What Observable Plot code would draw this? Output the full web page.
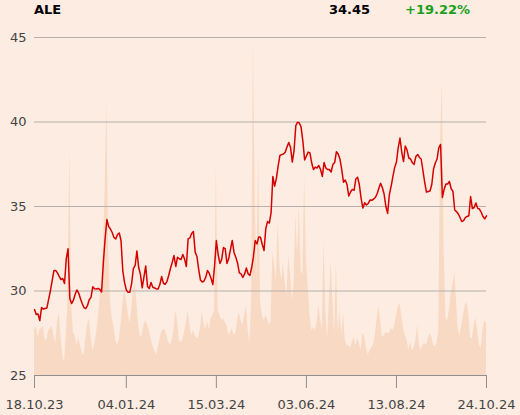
<!DOCTYPE html>
<html><head><meta charset="utf-8">
<script src="https://cdn.jsdelivr.net/npm/d3@7"></script>
<script src="https://cdn.jsdelivr.net/npm/@observablehq/plot@0.6"></script>
<style>
html,body{margin:0;padding:0;background:#fcece1;}
#wrap{position:relative;width:520px;height:415px;font-family:"DejaVu Sans",sans-serif;overflow:hidden;}
#wrap svg{position:absolute;left:0;top:0;}
.hdr{position:absolute;top:0;font-weight:bold;font-size:13px;line-height:20px;white-space:nowrap;z-index:3;}
</style></head><body>
<div id="wrap">
  <div class="hdr" id="sym" style="left:34px;color:#000"></div>
  <div class="hdr" id="last" style="right:150px;color:#000"></div>
  <div class="hdr" id="chg" style="left:405px;color:#1a9f1a"></div>
</div>
<script>
const symbol = "ALE";
const lastPrice = "34.45";
const change = "+19.22%";

const prices = [
28.90,28.61,28.64,28.25,29.02,28.93,28.96,28.99,29.50,30.00,
30.62,31.21,31.21,31.07,30.86,30.68,30.74,30.44,31.92,32.50,
29.56,29.26,29.44,29.79,30.06,29.88,29.56,29.26,29.02,28.96,
29.14,29.48,29.62,30.25,30.13,30.12,30.15,30.09,29.94,31.69,
33.11,34.23,33.82,33.67,33.46,33.17,33.08,33.34,33.43,32.99,
31.21,30.50,30.06,29.93,29.93,30.44,31.33,31.51,32.37,31.39,
30.98,30.19,30.83,31.48,30.27,30.15,30.50,30.22,30.18,30.12,
30.12,30.38,30.86,30.46,30.40,30.56,30.92,31.33,31.69,32.10,
31.45,32.00,31.91,31.86,32.16,31.89,31.45,33.08,33.14,33.40,
33.52,32.30,32.04,31.27,30.65,30.53,30.59,30.82,31.21,31.04,
30.74,30.38,31.51,32.99,32.16,31.63,31.86,32.57,32.51,31.63,
31.92,32.46,32.99,32.28,32.00,31.66,31.07,31.01,30.80,31.01,
31.36,31.01,30.92,31.39,32.04,32.99,32.78,33.20,33.18,32.75,
32.40,33.70,34.11,34.02,34.64,36.78,36.21,36.66,37.40,38.02,
38.07,38.11,38.21,38.52,38.79,38.51,37.63,38.31,39.79,39.99,
39.94,39.70,38.85,37.75,37.99,38.22,38.17,37.57,37.19,37.33,
37.28,37.43,37.19,36.78,37.60,37.28,37.19,37.19,37.04,37.49,
37.60,38.24,38.11,37.81,37.19,36.44,36.57,36.30,35.62,35.86,
36.01,35.95,36.63,36.73,36.27,35.47,34.91,35.22,35.09,35.18,
35.38,35.37,35.43,35.53,35.74,36.07,36.37,36.12,35.74,35.00,
34.59,35.71,36.21,36.78,37.31,37.63,38.49,39.05,38.22,37.66,
38.58,38.34,37.87,37.81,37.60,37.49,37.96,38.08,37.90,37.81,
37.13,36.42,35.85,35.89,35.92,36.30,37.22,37.57,37.81,38.49,
38.67,35.53,36.01,36.33,36.33,36.48,36.05,35.89,34.79,34.70,
34.56,34.35,34.11,34.17,34.34,34.41,34.45,35.59,34.88,34.94,
35.21,34.89,34.85,34.66,34.41,34.27,34.45
];

const volumes = [
13.3,14.8,11.2,13.3,13.9,14.5,10.4,10.4,13.3,13.9,
14.5,11.8,9.5,15.7,18.6,11.8,5.9,3.8,11.8,22.2,
66.6,20.7,12.7,11.8,8.9,10.9,8.9,6.8,5.9,10.4,
14.8,16.9,11.8,7.4,8.9,11.8,16.3,22.2,28.1,37.0,
54.7,80.5,37.0,22.2,16.9,14.5,10.4,8.9,10.4,14.8,
20.7,25.2,22.8,18.6,15.4,19.2,24.6,27.2,21.6,14.8,
11.5,11.8,14.8,16.3,14.8,13.3,10.9,8.9,7.4,5.9,
8.3,10.4,12.7,13.6,13.3,11.8,9.8,8.9,10.4,13.3,
19.2,16.3,10.4,9.8,10.4,12.7,15.4,19.2,14.8,11.8,
13.3,11.8,10.9,11.5,13.9,18.6,15.7,13.3,16.3,13.3,
16.9,17.8,19.2,61.5,19.2,17.8,16.3,16.9,15.7,14.8,
11.8,12.7,13.9,11.8,12.4,16.3,18.6,16.3,14.8,17.8,
20.7,13.3,9.5,22.2,98.5,51.8,28.1,65.7,22.2,17.8,
16.3,17.8,16.9,14.8,16.3,36.4,32.5,28.1,45.3,32.5,
28.1,33.1,27.2,23.7,35.5,29.6,22.2,26.6,47.3,35.5,
49.7,31.1,29.6,58.6,34.0,26.6,17.8,13.3,14.2,13.3,
15.4,20.7,16.9,13.3,39.9,19.2,10.4,22.2,34.0,22.2,
11.8,33.4,12.7,19.2,11.8,18.6,10.4,8.9,8.9,8.0,
9.8,11.2,8.9,10.9,9.5,7.4,12.4,11.5,8.3,5.9,
7.4,8.3,8.9,11.8,16.3,20.4,16.3,11.2,11.8,12.7,
12.4,12.4,13.9,13.3,14.5,17.5,20.1,21.3,17.8,13.9,
11.8,10.4,7.4,9.8,7.4,8.0,10.4,14.8,8.9,7.4,
8.9,9.5,8.9,10.9,12.4,11.5,8.9,8.6,9.5,13.3,
69.5,86.4,37.0,16.9,16.3,19.2,24.3,26.6,30.5,22.2,
13.3,11.8,14.8,17.8,20.7,21.6,17.8,11.2,10.9,14.8,
16.9,13.3,8.9,8.0,13.3,16.3,15.4
];

const tickIndex = [0, 52, 103, 154, 205, 256];
const tickLabels = ["18.10.23", "04.01.24", "15.03.24", "03.06.24", "13.08.24", "24.10.24"];
const yTicks = [25, 30, 35, 40, 45];
const volumeMax = 100;

document.getElementById("sym").textContent = symbol;
document.getElementById("last").textContent = lastPrice;
document.getElementById("chg").textContent = change;

const priceData = prices.map((p, i) => ({i, p}));
const volData = volumes.map((v, i) => ({i, v}));

const common = {
  width: 520, height: 415,
  marginLeft: 34, marginRight: 34, marginTop: 37, marginBottom: 40,
  style: {background: "transparent", fontFamily: "DejaVu Sans, sans-serif", fontSize: "13px"}
};

const volPlot = Plot.plot({
  ...common,
  x: {domain: [0, prices.length - 1], axis: null},
  y: {domain: [0, volumeMax], axis: null},
  marks: [
    Plot.areaY(volData, {x: "i", y: "v", fill: "#f8d9c3"})
  ]
});

const mainPlot = Plot.plot({
  ...common,
  x: {domain: [0, prices.length - 1], axis: null, label: null},
  y: {domain: [25, 45], axis: null, label: null},
  marks: [
    Plot.gridY(yTicks, {stroke: "#b5b0ab", strokeOpacity: 1}),
    Plot.ruleY([25], {stroke: "#8f8f8f"}),
    Plot.lineY(priceData, {x: "i", y: "p", stroke: "#d40000", strokeWidth: 1.5}),
    Plot.axisY({ticks: yTicks, tickSize: 0, tickPadding: 8, fill: "#444", label: null, tickFormat: d => String(d)}),
    Plot.axisX({ticks: tickIndex, tickSize: 13, tickPadding: 11, stroke: "#8f8f8f", fill: "#444", label: null,
      tickFormat: d => tickLabels[tickIndex.indexOf(d)]})
  ]
});

const wrap = document.getElementById("wrap");
wrap.appendChild(volPlot);
wrap.appendChild(mainPlot);
</script>
</body></html>
